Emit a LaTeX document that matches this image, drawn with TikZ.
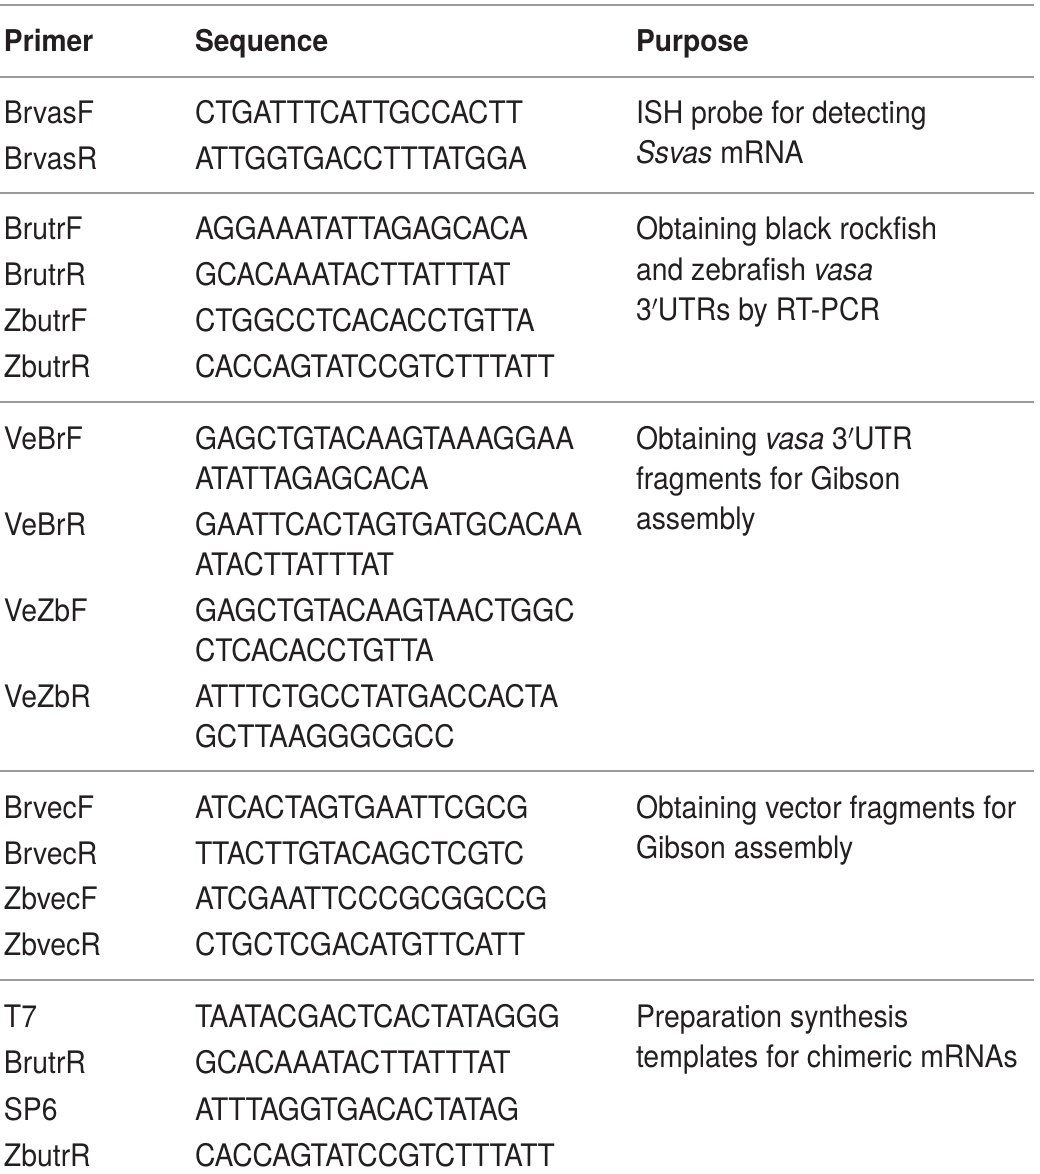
\documentclass[tikz,border=0pt]{standalone}
\usepackage{fontspec}
\setmainfont{TeX Gyre Heros}[FakeStretch=0.915]
\newfontfamily\seqfont{TeX Gyre Heros}[FakeStretch=0.91]
\newfontfamily\hdrfont{TeX Gyre Heros}[FakeStretch=0.94]
\definecolor{ink}{HTML}{231F20}
\definecolor{rulegray}{HTML}{9A9A9A}
\tikzset{
  txt/.style={anchor=base west, inner sep=0pt, outer sep=0pt, text=ink, font=\fontsize{31}{40}\selectfont},
  seq/.style={txt, font=\seqfont\fontsize{31}{40}\selectfont},
  hdr/.style={txt, font=\hdrfont\bfseries\fontsize{30}{36}\selectfont},
  hrule/.style={draw=rulegray, line width=1.6pt}
}
\begin{document}
\begin{tikzpicture}[x=1pt,y=-1pt]
\useasboundingbox (0,0) rectangle (1040,1174);
% rules
\foreach \yy in {5,77,193,402,771,980} \draw[hrule] (0,\yy) -- (1034,\yy);
% header
\node[hdr] (hA) at (4,52) {Primer};
\node[hdr] (hB) at (195,52) {Sequence};
\node[hdr] (hC) at (636,52) {Purpose};
% group 1
\node[txt] (p1) at (4,124) {BrvasF};
\node[seq] (s1) at (195,124) {CTGATTTCATTGCCACTT};
\node[txt] (p2) at (4,170) {BrvasR};
\node[seq] (s2) at (195,170) {ATTGGTGACCTTTATGGA};
\node[txt] (u1a) at (636,124) {ISH probe for detecting};
\node[txt] (u1b) at (636,164) {\textit{Ssvas} mRNA};
% group 2
\node[txt] (p3) at (4,240) {BrutrF};
\node[seq] (s3) at (195,240) {AGGAAATATTAGAGCACA};
\node[txt] (p4) at (4,285.7) {BrutrR};
\node[seq] (s4) at (195,285.7) {GCACAAATACTTATTTAT};
\node[txt] (p5) at (4,331.3) {ZbutrF};
\node[seq] (s5) at (195,331.3) {CTGGCCTCACACCTGTTA};
\node[txt] (p6) at (4,377) {ZbutrR};
\node[seq] (s6) at (195,377) {CACCAGTATCCGTCTTTATT};
\node[txt] (u2a) at (636,240) {Obtaining black rockfish};
\node[txt] (u2b) at (636,280) {and zebrafish \textit{vasa}};
\node[txt] (u2c) at (636,320) {3$'$UTRs by RT-PCR};
% group 3
\node[txt] (p7) at (4,449) {VeBrF};
\node[seq] (s7a) at (195,449) {GAGCTGTACAAGTAAAGGAA};
\node[seq] (s7b) at (195,489) {ATATTAGAGCACA};
\node[txt] (p8) at (4,535) {VeBrR};
\node[seq] (s8a) at (195,535) {GAATTCACTAGTGATGCACAA};
\node[seq] (s8b) at (195,575) {ATACTTATTTAT};
\node[txt] (p9) at (4,621) {VeZbF};
\node[seq] (s9a) at (195,621) {GAGCTGTACAAGTAACTGGC};
\node[seq] (s9b) at (195,661) {CTCACACCTGTTA};
\node[txt] (p10) at (4,707) {VeZbR};
\node[seq] (s10a) at (195,707) {ATTTCTGCCTATGACCACTA};
\node[seq] (s10b) at (195,747) {GCTTAAGGGCGCC};
\node[txt] (u3a) at (636,449) {Obtaining \textit{vasa} 3$'$UTR};
\node[txt] (u3b) at (636,489) {fragments for Gibson};
\node[txt] (u3c) at (636,529) {assembly};
% group 4
\node[txt] (p11) at (4,818) {BrvecF};
\node[seq] (s11) at (195,818) {ATCACTAGTGAATTCGCG};
\node[txt] (p12) at (4,864) {BrvecR};
\node[seq] (s12) at (195,864) {TTACTTGTACAGCTCGTC};
\node[txt] (p13) at (4,909) {ZbvecF};
\node[seq] (s13) at (195,909) {ATCGAATTCCCGCGGCCG};
\node[txt] (p14) at (4,955) {ZbvecR};
\node[seq] (s14) at (195,955) {CTGCTCGACATGTTCATT};
\node[txt] (u4a) at (636,818) {Obtaining vector fragments for};
\node[txt] (u4b) at (636,858) {Gibson assembly};
% group 5
\node[txt] (p15) at (4,1027) {T7};
\node[seq] (s15) at (195,1027) {TAATACGACTCACTATAGGG};
\node[txt] (p16) at (4,1073.5) {BrutrR};
\node[seq] (s16) at (195,1073.5) {GCACAAATACTTATTTAT};
\node[txt] (p17) at (4,1120) {SP6};
\node[seq] (s17) at (195,1120) {ATTTAGGTGACACTATAG};
\node[txt] (p18) at (4,1166) {ZbutrR};
\node[seq] (s18) at (195,1166) {CACCAGTATCCGTCTTTATT};
\node[txt] (u5a) at (636,1027) {Preparation synthesis};
\node[txt] (u5b) at (636,1067) {templates for chimeric mRNAs};
\end{tikzpicture}
\end{document}
